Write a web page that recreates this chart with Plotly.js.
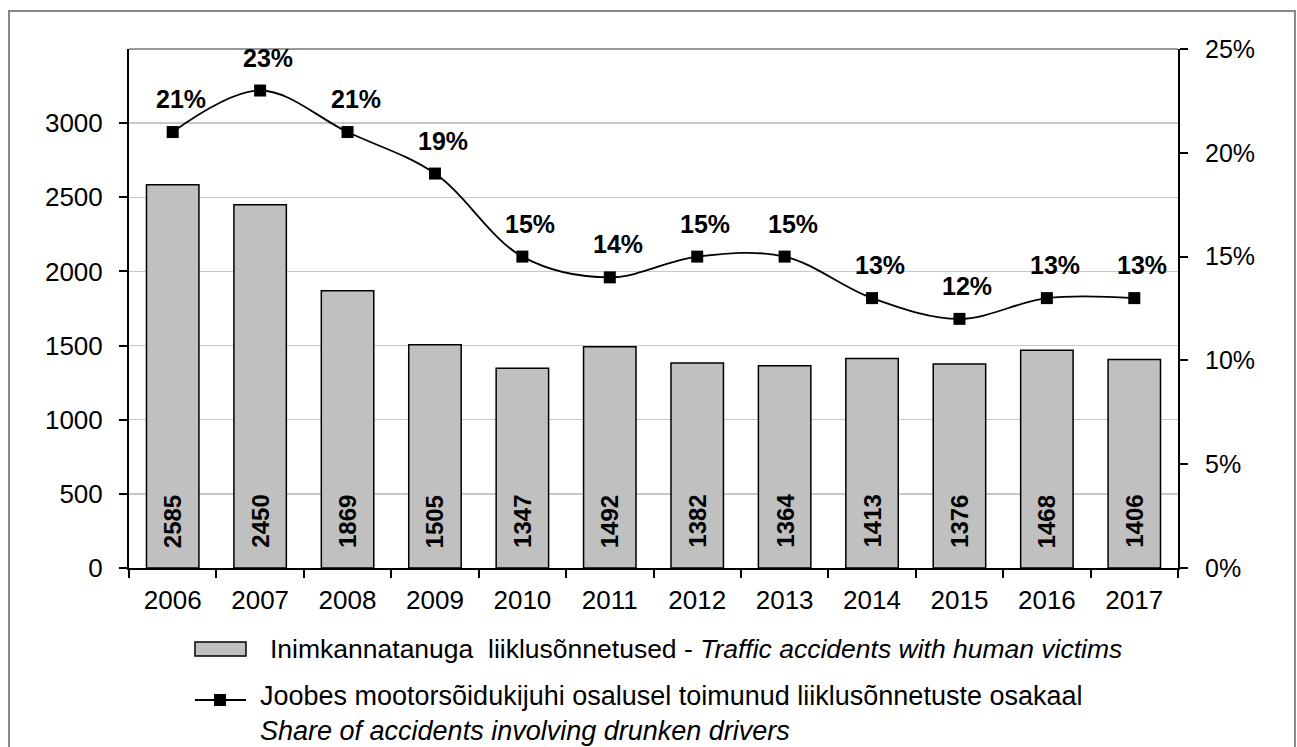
<!DOCTYPE html>
<html>
<head>
<meta charset="utf-8">
<script src="https://cdn.plot.ly/plotly-3.0.1.min.js"></script>
<style>
html,body{margin:0;padding:0;background:#fff;}
#chart{width:1297px;height:747px;}
</style>
</head>
<body>
<div id="chart"></div>
<script>
const years = ['2006','2007','2008','2009','2010','2011','2012','2013','2014','2015','2016','2017'];
const accidents = [2585,2450,1869,1505,1347,1492,1382,1364,1413,1376,1468,1406];
const drunkShare = [21,23,21,19,15,14,15,15,13,12,13,13];
const leftTicks = [0,500,1000,1500,2000,2500,3000];
const rightTicks = [0,5,10,15,20,25];
const barName = 'Inimkannatanuga  liiklusõnnetused - <i>Traffic accidents with human victims</i>';
const lineName1 = 'Joobes mootorsõidukijuhi osalusel toimunud liiklusõnnetuste osakaal';
const lineName2 = '<i>Share of accidents involving drunken drivers</i>';

const FONT = '"Liberation Sans", Arial, Helvetica, sans-serif';

const bars = {
  type: 'bar', x: years, y: accidents, name: barName,
  marker: {color: '#c0c0c0', line: {color: '#000', width: 1.5}},
  width: 0.6, hoverinfo: 'x+y', showlegend: false
};
const line = {
  type: 'scatter', mode: 'lines+markers', x: years, y: drunkShare, yaxis: 'y2',
  name: lineName1,
  line: {color: '#000', width: 1.8, shape: 'spline', smoothing: 1},
  marker: {symbol: 'square', size: 12, color: '#000'},
  showlegend: false
};

const annotations = [];
years.forEach((yr, i) => {
  annotations.push({
    x: i, y: 0, xref: 'x', yref: 'y', text: '<b>' + accidents[i] + '</b>',
    showarrow: false, textangle: -90, yanchor: 'bottom', xanchor: 'center', yshift: 18,
    font: {family: FONT, size: 24, color: '#000'}
  });
  annotations.push({
    x: i, y: drunkShare[i], xref: 'x', yref: 'y2', text: '<b>' + drunkShare[i] + '%</b>',
    showarrow: false, yanchor: 'middle', xanchor: 'center', yshift: 33, xshift: 8,
    font: {family: FONT, size: 25, color: '#000'}
  });
});
// legend text
annotations.push({xref:'paper', yref:'paper', x:0.1325, y:-0.156, xanchor:'left', yanchor:'middle',
  text: barName, showarrow:false, font:{family:FONT, size:26.5, color:'#000'}});
annotations.push({xref:'paper', yref:'paper', x:0.123, y:-0.2795, xanchor:'left', yanchor:'middle', align:'left',
  text: lineName1 + '<br>' + lineName2, showarrow:false, font:{family:FONT, size:27, color:'#000'}});

const shapes = [
  {type:'rect', xref:'paper', yref:'paper', x0:-0.1144, x1:1.1115, y0:-0.40, y1:1.0732,
   line:{color:'#888', width:2}, fillcolor:'rgba(0,0,0,0)', layer:'below'},
  {type:'line', xref:'paper', yref:'paper', x0:0, x1:1, y0:1, y1:1, line:{color:'#999', width:2}},
  {type:'rect', xref:'paper', yref:'paper', x0:0.0629, x1:0.1115, y0:-0.1696, y1:-0.1426,
   line:{color:'#000', width:1.5}, fillcolor:'#c0c0c0'},
  {type:'line', xref:'paper', yref:'paper', x0:0.0629, x1:0.1115, y0:-0.2543, y1:-0.2543,
   line:{color:'#000', width:2}},
  {type:'rect', xref:'paper', yref:'paper', x0:0.0810, x1:0.0925, y0:-0.2659, y1:-0.2428,
   line:{color:'#000', width:0}, fillcolor:'#000'}
];

const layout = {
  width: 1297, height: 747,
  margin: {l: 129, r: 119, t: 49, b: 179},
  paper_bgcolor: '#fff', plot_bgcolor: '#fff',
  font: {family: FONT, size: 25, color: '#000'},
  showlegend: false,
  xaxis: {
    type: 'category', range: [-0.5, years.length - 0.5], tickson: 'boundaries', ticks: 'outside', ticklen: 8, tickwidth: 2,
    tickcolor: '#000', showline: true, linecolor: '#000', linewidth: 2, tickangle: 0,
    tickfont: {family: FONT, size: 26}, showgrid: false, ticklabelstandoff: 8
  },
  yaxis: {
    range: [0, 3500], tickmode: 'array', tickvals: leftTicks, ticks: 'outside', ticklen: 8, tickwidth: 2,
    tickcolor: '#000', showline: true, linecolor: '#000', linewidth: 2,
    gridcolor: '#c8c8c8', gridwidth: 1.5, zeroline: false,
    tickfont: {family: FONT, size: 26}, ticklabelstandoff: 11
  },
  yaxis2: {
    overlaying: 'y', side: 'right', range: [0, 25], tickmode: 'array', tickvals: rightTicks,
    ticktext: rightTicks.map(v => v + '%'),
    ticks: 'outside', ticklen: 8, tickwidth: 2, tickcolor: '#000',
    showline: true, linecolor: '#000', linewidth: 2, showgrid: false, zeroline: false,
    tickfont: {family: FONT, size: 25}, ticklabelstandoff: 12
  },
  annotations: annotations,
  shapes: shapes
};

Plotly.newPlot('chart', [bars, line], layout, {displayModeBar: false, staticPlot: true});
</script>
</body>
</html>
